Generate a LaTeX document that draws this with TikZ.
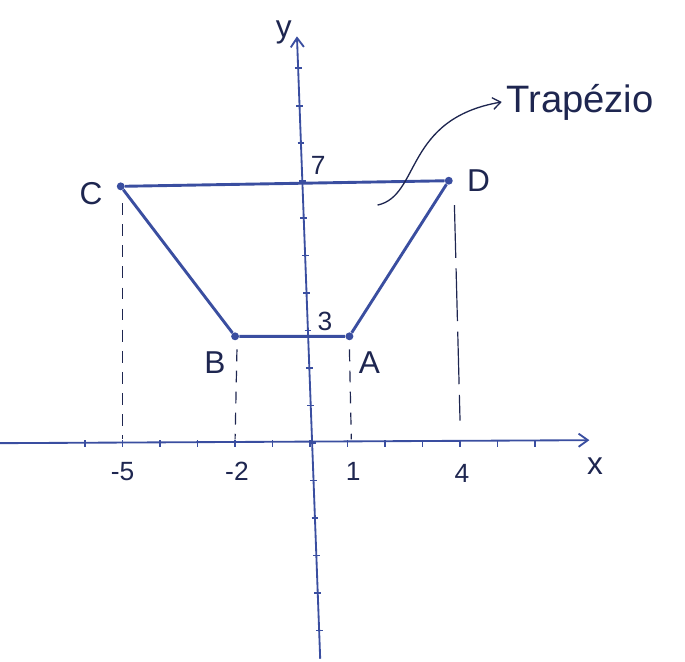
\documentclass[tikz,border=0pt]{standalone}
\usepackage{fontspec}
\setmainfont{Liberation Sans}
\usetikzlibrary{positioning, arrows.meta, calc}
\definecolor{penblue}{RGB}{58,78,160}
\definecolor{penink}{RGB}{30,38,80}
\tikzset{
  axis/.style={draw=penblue, line width=1.4pt},
  side/.style={draw=penblue, line width=2.2pt},
  guide/.style={draw=penink, line width=0.9pt, dash pattern=on 9pt off 7pt},
  vertex/.style={circle, fill=penblue, inner sep=0pt, minimum size=6pt},
  lbl/.style={text=penink, font=\fontsize{24}{26}\selectfont},
  num/.style={text=penink, font=\fontsize{20}{22}\selectfont},
  arrow/.style={draw=penink, line width=1pt, -{Straight Barb[length=6pt, width=9pt]}}
}
\begin{document}
\begin{tikzpicture}
  \useasboundingbox (-8.27,-5.81) rectangle (10.0,11.82);

  % Eixos
  \coordinate (xl) at (-8.27,0);
  \coordinate (xr) at (7.45,0.08);
  \coordinate (ybot) at (0.27,-5.75);
  \coordinate (ytop) at (-0.35,10.85);
  \draw [axis, -{Straight Barb[length=7pt, width=10pt]}] (xl) -- (xr);
  \draw [axis, -{Straight Barb[length=7pt, width=10pt]}] (ybot) -- (ytop);
  \foreach \k in {-6,...,6}
    \draw [penblue, line width=1.2pt] (\k,-0.09) -- (\k,0.09);
  \foreach \k in {-5,...,10}
    \draw [penblue, line width=1.2pt] ($(ybot)!{(\k+5.75)/16.6}!(ytop)$) ++(-0.09,0) -- ++(0.18,0);
  \node (xname) [lbl] at (7.6,-0.6) {x};
  \node (yname) [lbl] at (-0.7,10.95) {y};

  % Pontos
  \node (C) [vertex] at (-5.05,6.85) {};
  \node (D) [vertex] at (3.7,7.0) {};
  \node (B) [vertex] at (-2.0,2.85) {};
  \node (A) [vertex] at (1.05,2.85) {};

  % Trapezio
  \draw [side] (C) -- (D) -- (A) -- (B) -- (C);

  \node (Cl) [lbl, left=0.25cm of C, yshift=-0.2cm] {C};
  \node (Dl) [lbl, right=0.25cm of D] {D};
  \node (Bl) [lbl, below left=0.2cm and 0.05cm of B] {B};
  \node (Al) [lbl, below right=0.2cm and 0.05cm of A] {A};
  \node (seven) [num] at (0.22,7.42) {7};
  \node (three) [num] at (0.4,3.25) {3};

  % Tracejadas
  \coordinate (c0) at (-5,0.1);
  \coordinate (b0) at (-2,0.1);
  \coordinate (a0) at (1.1,0.1);
  \coordinate (d1) at (3.85,6.35);
  \coordinate (d0) at (4.0,0.6);
  \draw [guide] ($(C)+(0.05,-0.45)$) -- (c0);
  \draw [guide] ($(B)+(0.05,-0.35)$) -- (b0);
  \draw [guide] ($(A)+(0,-0.35)$) -- (a0);
  \draw [guide, dash pattern=on 40pt off 8pt] (d1) -- (d0);

  \node (m5) [num] at (-5,-0.75) {-5};
  \node (m2) [num] at (-1.95,-0.75) {-2};
  \node (p1) [num] at (1.15,-0.75) {1};
  \node (p4) [num] at (4.05,-0.8) {4};

  % Seta
  \node (trap) [lbl, font=\fontsize{29}{31}\selectfont] at (7.2,9.1) {Trapézio};
  \coordinate (tail) at (1.8,6.35);
  \draw [arrow] (tail) .. controls (2.95,6.6) and (2.5,8.65) .. (trap.west);
\end{tikzpicture}
\end{document}
